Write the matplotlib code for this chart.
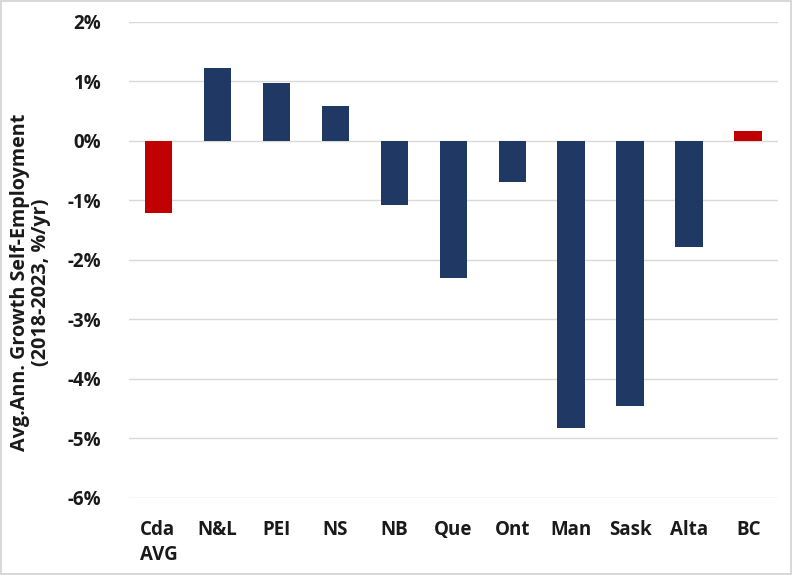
import matplotlib.pyplot as plt
from matplotlib.ticker import FuncFormatter

regions = ['Cda\nAVG', 'N&L', 'PEI', 'NS', 'NB', 'Que', 'Ont', 'Man', 'Sask', 'Alta', 'BC']
growth = [-1.21, 1.22, 0.97, 0.58, -1.07, -2.30, -0.69, -4.83, -4.45, -1.79, 0.17]
highlight = ['Cda\nAVG', 'BC']

navy = '#1F3864'
red = '#C00000'
colors = [red if r in highlight else navy for r in regions]

plt.rcParams['font.family'] = ['Open Sans', 'DejaVu Sans']
plt.rcParams['font.weight'] = 'bold'

fig = plt.figure(figsize=(7.92, 5.75), dpi=100)
fig.patch.set_edgecolor('#D9D9D9')
fig.patch.set_linewidth(1.5)
ax = fig.add_axes([0.163, 0.134, 0.819, 0.828])

x = range(len(regions))
ax.bar(x, growth, width=0.47, color=colors, zorder=3)

ax.set_ylim(-6, 2)
ax.set_xlim(-0.5, len(regions) - 0.5)
ax.set_yticks(range(-6, 3))
ax.yaxis.set_major_formatter(FuncFormatter(lambda v, p: '%d%%' % v))
ax.set_xticks(list(x))
ax.set_xticklabels(regions, ha='center', va='top', multialignment='left', linespacing=1.35)
ax.grid(axis='y', color='#D9D9D9', linewidth=1, zorder=0)
for s in ax.spines.values():
    s.set_visible(False)
ax.tick_params(length=0, labelsize=13.5, colors='#1a1a1a')
ax.tick_params(axis='x', pad=16)
ax.tick_params(axis='y', pad=20)
ax.set_ylabel('Avg.Ann. Growth Self-Employment\n(2018-2023, %/yr)', fontsize=14.2,
              fontweight='bold', color='#1a1a1a', linespacing=1.1)
ax.yaxis.set_label_coords(-0.12, 0.452)

fig.savefig('out.png', dpi=100, edgecolor=fig.get_edgecolor())
